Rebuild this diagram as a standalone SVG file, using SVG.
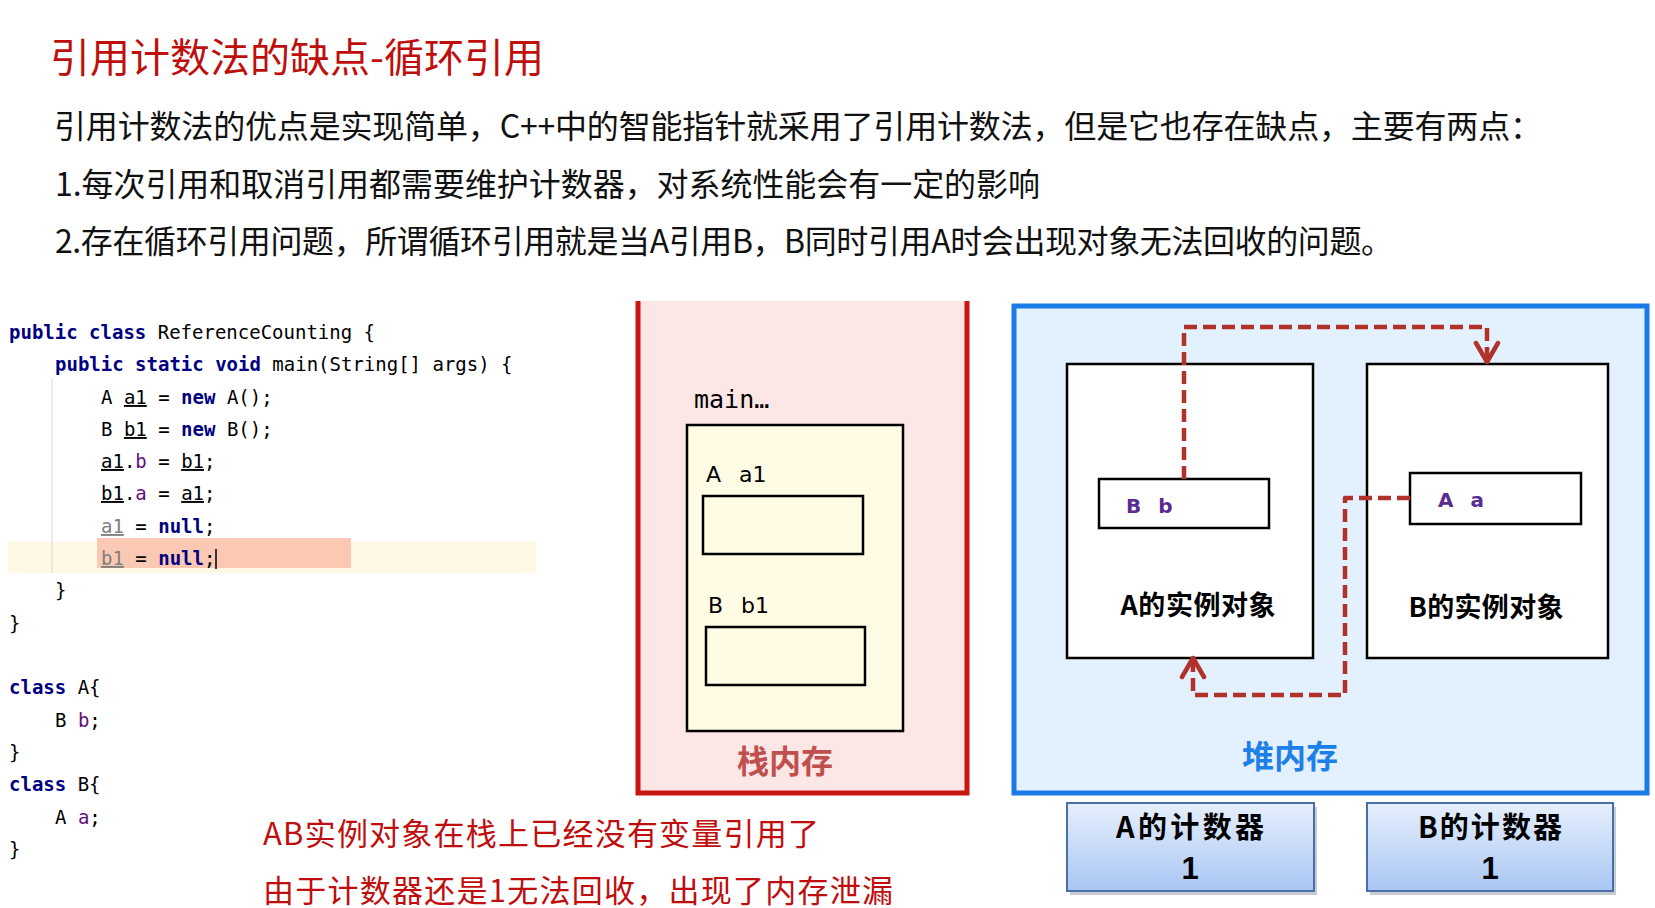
<svg xmlns="http://www.w3.org/2000/svg" width="1655" height="908" viewBox="0 0 1655 908">
<defs>
<style>
.cjk{font-family:"Noto Sans CJK SC","Noto Sans",sans-serif}
.title{font-size:40px;fill:#bf0f0d}
.para{font-size:32px;fill:#111}
.note{font-size:31px;fill:#c00d0d}
.code{font-family:"DejaVu Sans Mono","Liberation Mono",monospace;font-size:19px;fill:#000}
.kw{font-weight:bold;fill:#000080}
.fld{fill:#660e7a}
.ul{text-decoration:underline}
.gr{fill:#808080}
.box{fill:#fff;stroke:#000;stroke-width:2.5}
.slot{fill:none;stroke:#000;stroke-width:2.5}
.lbl{font-family:"Noto Sans CJK SC","Noto Sans",sans-serif;font-weight:bold;font-size:27px;fill:#000}
.var{font-family:"DejaVu Sans","Noto Sans",sans-serif;font-size:22px;fill:#000}
.fv{font-family:"DejaVu Sans","Noto Sans",sans-serif;font-weight:bold;font-size:20px;fill:#5b2b90}
.cnt{font-family:"Noto Sans CJK SC","Noto Sans",sans-serif;font-weight:bold;font-size:29px;fill:#000}
.num{font-family:"Liberation Sans",Arial,sans-serif;font-weight:bold;font-size:31px;fill:#000}
.ref{fill:none;stroke:#b0322a;stroke-width:4.5;stroke-dasharray:13 6;stroke-linejoin:round}
</style>
<marker id="arr" markerUnits="userSpaceOnUse" viewBox="-24 -14 28 28" refX="0" refY="0" markerWidth="28" markerHeight="28" orient="auto">
<path d="M-19,-11 L0,0 L-19,11" fill="none" stroke="#b0322a" stroke-width="4.5" stroke-linejoin="round" stroke-linecap="round"/>
</marker>
<linearGradient id="cg" x1="0" y1="0" x2="0" y2="1">
<stop offset="0" stop-color="#e6effc"/>
<stop offset="1" stop-color="#a9c6f3"/>
</linearGradient>
</defs>
<rect width="1655" height="908" fill="#fff"/>

<g id="heading">
<text class="cjk title" x="50" y="72" textLength="494">引用计数法的缺点-循环引用</text>
<text class="cjk para" x="54" y="138" textLength="1488">引用计数法的优点是实现简单，C++中的智能指针就采用了引用计数法，但是它也存在缺点，主要有两点：</text>
<text class="cjk para" x="55" y="196" textLength="985">1.每次引用和取消引用都需要维护计数器，对系统性能会有一定的影响</text>
<text class="cjk para" x="55" y="253" textLength="1338">2.存在循环引用问题，所谓循环引用就是当A引用B，B同时引用A时会出现对象无法回收的问题。</text>
</g>

<g id="code">
<rect x="8" y="542" width="528" height="31" fill="#fef8e4"/>
<rect x="97" y="538" width="254" height="30" fill="#fbc8b4"/>
<line x1="52" y1="379" x2="52" y2="573" stroke="#e3e3e3" stroke-width="1.5"/>
<line x1="216" y1="549" x2="216" y2="569" stroke="#000" stroke-width="1.5"/>
<text class="code" x="9" y="339"><tspan class="kw">public class</tspan> ReferenceCounting {</text>
<text class="code" x="55" y="371"><tspan class="kw">public static void</tspan> main(String[] args) {</text>
<text class="code" x="101" y="404">A <tspan class="ul">a1</tspan> = <tspan class="kw">new</tspan> A();</text>
<text class="code" x="101" y="436">B <tspan class="ul">b1</tspan> = <tspan class="kw">new</tspan> B();</text>
<text class="code" x="101" y="468"><tspan class="ul">a1</tspan>.<tspan class="fld">b</tspan> = <tspan class="ul">b1</tspan>;</text>
<text class="code" x="101" y="500"><tspan class="ul">b1</tspan>.<tspan class="fld">a</tspan> = <tspan class="ul">a1</tspan>;</text>
<text class="code" x="101" y="533"><tspan class="ul gr">a1</tspan> = <tspan class="kw">null</tspan>;</text>
<text class="code" x="101" y="565"><tspan class="ul gr">b1</tspan> = <tspan class="kw">null</tspan>;</text>
<text class="code" x="55" y="597">}</text>
<text class="code" x="9" y="630">}</text>
<text class="code" x="9" y="694"><tspan class="kw">class</tspan> A{</text>
<text class="code" x="55" y="727">B <tspan class="fld">b</tspan>;</text>
<text class="code" x="9" y="759">}</text>
<text class="code" x="9" y="791"><tspan class="kw">class</tspan> B{</text>
<text class="code" x="55" y="824">A <tspan class="fld">a</tspan>;</text>
<text class="code" x="9" y="856">}</text>
</g>

<g id="note">
<text class="cjk note" x="263" y="845" textLength="556">AB实例对象在栈上已经没有变量引用了</text>
<text class="cjk note" x="263" y="902" textLength="630">由于计数器还是1无法回收，出现了内存泄漏</text>
</g>

<g id="stack">
<rect x="638" y="301" width="329" height="492" fill="#fde6e6"/>
<path d="M638,301 V793 H967 V301" fill="none" stroke="#c8150f" stroke-width="5"/>
<text x="694" y="408" font-family="DejaVu Sans Mono,monospace" font-size="25" fill="#000">main…</text>
<text x="785" y="773" text-anchor="middle" class="cjk" font-size="32" font-weight="bold" fill="#c0504d">栈内存</text>
</g>

<g id="main-frame">
<rect x="687" y="425" width="216" height="306" fill="#fffbe4" stroke="#000" stroke-width="2.5"/>
</g>

<g id="var-a1">
<text class="var" x="706" y="482" word-spacing="11">A a1</text>
<rect class="slot" x="703" y="496" width="160" height="58"/>
</g>

<g id="var-b1">
<text class="var" x="708" y="613" word-spacing="11">B b1</text>
<rect class="slot" x="706" y="627" width="159" height="58"/>
</g>

<g id="heap">
<rect x="1014" y="306" width="633" height="487" fill="#e3f0fd" stroke="#1a7be6" stroke-width="5"/>
<text x="1290" y="768" text-anchor="middle" class="cjk" font-size="32" font-weight="bold" fill="#1d80e8">堆内存</text>
</g>

<g id="objA">
<rect class="box" x="1067" y="364" width="246" height="294"/>
<text class="lbl" x="1198" y="615" text-anchor="middle" textLength="155">A的实例对象</text>
</g>

<g id="fieldB">
<rect class="slot" x="1099" y="479" width="170" height="49"/>
<text class="fv" x="1126" y="513" word-spacing="10">B b</text>
</g>

<g id="objB">
<rect class="box" x="1367" y="364" width="241" height="294"/>
<text class="lbl" x="1486" y="617" text-anchor="middle" textLength="155">B的实例对象</text>
</g>

<g id="fieldA">
<rect class="slot" x="1410" y="473" width="171" height="51"/>
<text class="fv" x="1438" y="507" word-spacing="10">A a</text>
</g>

<g id="counterA">
<rect x="1070" y="807" width="247" height="88" fill="#8f99a6" opacity="0.5"/>
<rect x="1067" y="803" width="247" height="88" fill="url(#cg)" stroke="#4a6fa8" stroke-width="2"/>
<text class="cnt" x="1190" y="838" text-anchor="middle" textLength="148">A的计数器</text>
<text class="num" x="1190" y="879" text-anchor="middle">1</text>
</g>

<g id="counterB">
<rect x="1370" y="807" width="246" height="88" fill="#8f99a6" opacity="0.5"/>
<rect x="1367" y="803" width="246" height="88" fill="url(#cg)" stroke="#4a6fa8" stroke-width="2"/>
<text class="cnt" x="1490" y="838" text-anchor="middle" textLength="144">B的计数器</text>
<text class="num" x="1490" y="879" text-anchor="middle">1</text>
</g>

<g id="connectors">
<path class="ref" d="M1184,479 V327 H1487 V362" marker-end="url(#arr)"/>
<path class="ref" d="M1410,498 H1345 V695 H1193 V658" marker-end="url(#arr)"/>
</g>
</svg>
